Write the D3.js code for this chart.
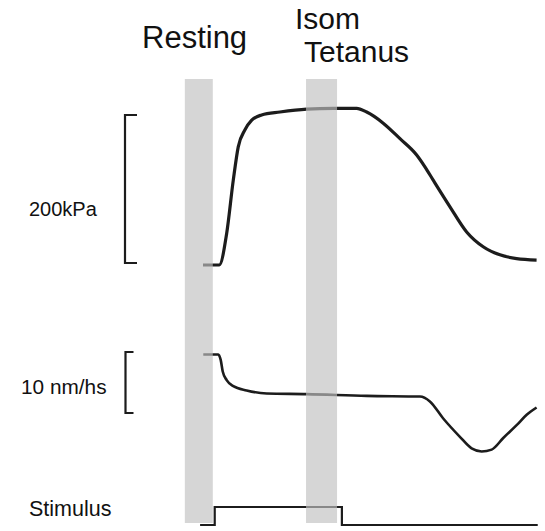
<!DOCTYPE html>
<html>
<head>
<meta charset="utf-8">
<script src="https://cdn.jsdelivr.net/npm/d3@7"></script>
<style>
  html, body { margin: 0; padding: 0; background: #fff; }
  svg { display: block; }
  text { font-family: Arial, "Liberation Sans", sans-serif; fill: #111; }
</style>
</head>
<body>
<svg id="chart" width="545" height="531"></svg>
<script>
// ---- data (time in ms, relative to stimulus onset) ----
const forceTime = [-92, 36, 94, 146, 185, 238, 291, 369, 513, 723, 932, 1116, 1195, 1325, 1457, 1588, 1653, 1718, 1850, 1981, 2111, 2243, 2374, 2531];
const forceKPa  = [-2.7, -2.7, 40, 112, 157, 180, 193, 200, 204, 208, 209, 209, 204, 189, 168, 146, 130, 112, 76, 42, 22, 11, 6, 4];

const velTime = [-90, 28, 47, 63, 94, 146, 251, 409, 723, 1195, 1614, 1692, 1797, 1928, 2020, 2099, 2178, 2269, 2374, 2453, 2531];
const velNmHs = [9.6, 9.6, 8.7, 6.8, 5.4, 4.4, 3.7, 3.2, 3.1, 2.8, 2.7, 1.9, -0.9, -3.9, -5.8, -6.3, -6.0, -4.1, -2.0, -0.3, 0.9];

const stimTime  = [-115, 0, 0, 1000, 1000, 2540];
const stimLevel = [0, 0, 1, 1, 0, 0];

const bandNames  = ["Resting", "Isom Tetanus"];
const bandStart  = [-235, 718];
const bandEnd    = [-15, 962];

const forceBarValue = 200;   // 200 kPa scale bar
const velBarValue   = 10;    // 10 nm/hs scale bar
const forceLabel = "200kPa";
const velLabel   = "10 nm/hs";
const stimLabel  = "Stimulus";

// ---- scales ----
const svg = d3.select("#chart");
const x = d3.scaleLinear().domain([-100, 2550]).range([202, 539]);
const yForce = d3.scaleLinear().domain([0, 200]).range([263, 115]);
const yVel = d3.scaleLinear().domain([0, 10]).range([413, 352]);
const yStim = d3.scaleLinear().domain([0, 1]).range([525, 507]);

const ink = "#1c1c1c";

// force trace
const forceData = forceTime.map((t, i) => ({ t, v: forceKPa[i] }));
svg.append("path")
  .datum(forceData)
  .attr("fill", "none")
  .attr("stroke", ink)
  .attr("stroke-width", 3.2)
  .attr("stroke-linejoin", "round")
  .attr("d", d3.line().x(d => x(d.t)).y(d => yForce(d.v)).curve(d3.curveMonotoneX));

// velocity trace
const velData = velTime.map((t, i) => ({ t, v: velNmHs[i] }));
svg.append("path")
  .datum(velData)
  .attr("fill", "none")
  .attr("stroke", ink)
  .attr("stroke-width", 2.6)
  .attr("stroke-linejoin", "round")
  .attr("d", d3.line().x(d => x(d.t)).y(d => yVel(d.v)).curve(d3.curveMonotoneX));

// stimulus trace
const stimData = stimTime.map((t, i) => ({ t, v: stimLevel[i] }));
svg.append("path")
  .datum(stimData)
  .attr("fill", "none")
  .attr("stroke", ink)
  .attr("stroke-width", 2.2)
  .attr("d", d3.line().x(d => x(d.t)).y(d => yStim(d.v)));

// scale bars (brackets)
function bracket(xPos, y0, y1, arm) {
  svg.append("path")
    .attr("fill", "none")
    .attr("stroke", ink)
    .attr("stroke-width", 2.2)
    .attr("d", `M${xPos + arm},${y0} H${xPos} V${y1} H${xPos + arm}`);
}
bracket(125, yForce(forceBarValue), yForce(0), 12);
bracket(125.5, yVel(velBarValue), yVel(0), 8);

// shaded bands (drawn over traces)
bandNames.forEach((name, i) => {
  svg.append("rect")
    .attr("x", x(bandStart[i]))
    .attr("y", 79)
    .attr("width", x(bandEnd[i]) - x(bandStart[i]))
    .attr("height", 444)
    .attr("fill", "rgb(193,193,193)")
    .attr("fill-opacity", 0.66);
});

// labels
svg.append("text").attr("x", 142).attr("y", 48).attr("font-size", 31).text("Resting");
svg.append("text").attr("x", 295).attr("y", 29).attr("font-size", 30).text("Isom");
svg.append("text").attr("x", 304).attr("y", 62).attr("font-size", 30).text("Tetanus");

svg.append("text").attr("x", 29).attr("y", 216).attr("font-size", 20).text(forceLabel);
svg.append("text").attr("x", 21).attr("y", 394).attr("font-size", 20.8).text(velLabel);
svg.append("text").attr("x", 29).attr("y", 516).attr("font-size", 21.5).text(stimLabel);
</script>
</body>
</html>
